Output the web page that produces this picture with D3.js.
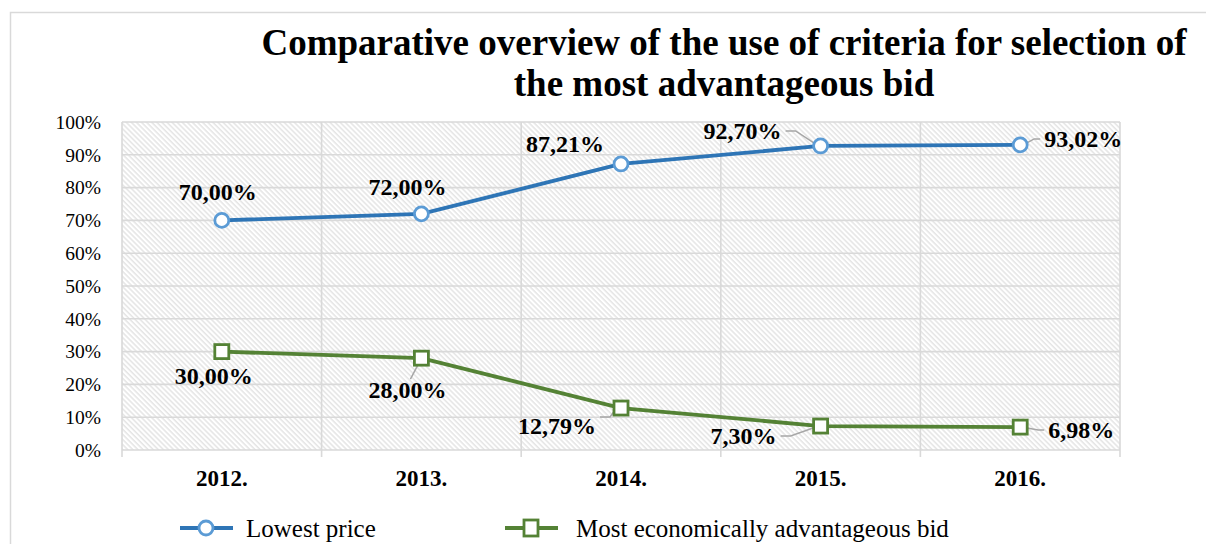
<!DOCTYPE html>
<html>
<head>
<meta charset="utf-8">
<script src="https://cdn.jsdelivr.net/npm/d3@7"></script>
<style>
  html, body { margin: 0; padding: 0; background: #fff; }
  svg { display: block; }
  text { font-family: "Liberation Serif", "Times New Roman", serif; }
</style>
</head>
<body>
<svg id="chart" width="1206" height="544"></svg>
<script>
// Years on the category axis
const years = ["2012.", "2013.", "2014.", "2015.", "2016."];
// Share of procedures by award criterion (%)
const lowestPrice = [70.00, 72.00, 87.21, 92.70, 93.02];
const meat = [30.00, 28.00, 12.79, 7.30, 6.98];
// Value-axis tick values
const yTicks = [0, 10, 20, 30, 40, 50, 60, 70, 80, 90, 100];
const seriesNames = ["Lowest price", "Most economically advantageous bid"];

// Label placement relative to each point: [dx, dy, anchor, leader style]
const lowestLabelPos = [
  [-4, -20, "middle", null],
  [-14, -19, "middle", null],
  [-56, -12, "middle", null],
  [-78, -7, "middle", "elbow"],
  [24, 2, "start", "elbow"]
];
const meatLabelPos = [
  [-8, 32, "middle", null],
  [-14, 40, "middle", "direct"],
  [-64, 26, "middle", "elbow"],
  [-77, 18, "middle", "elbow"],
  [28, 11, "start", "elbow"]
];

const svg = d3.select("#chart");
const margin = { left: 122, right: 1120, top: 122, bottom: 450 };

const x = d3.scaleBand().domain(years).range([margin.left, margin.right]).paddingInner(0).paddingOuter(0);
const y = d3.scaleLinear().domain([0, 100]).range([margin.bottom, margin.top]);
const cx = d => x(d) + x.bandwidth() / 2;

// outer chart frame
svg.append("rect")
  .attr("x", 10.5).attr("y", 12.5).attr("width", 1300).attr("height", 600)
  .attr("fill", "#fff").attr("stroke", "#d9d9d9").attr("stroke-width", 1.5);

// hatched plot background (light downward diagonals)
const defs = svg.append("defs");
const pat = defs.append("pattern")
  .attr("id", "hatch").attr("patternUnits", "userSpaceOnUse")
  .attr("width", 3.6).attr("height", 3.6)
  .attr("patternTransform", "rotate(45)");
pat.append("rect").attr("width", 3.6).attr("height", 3.6).attr("fill", "#fff");
pat.append("line").attr("x1", 0).attr("y1", 0.8).attr("x2", 3.6).attr("y2", 0.8)
  .attr("stroke", "#e0e0e0").attr("stroke-width", 1.3);

svg.append("rect")
  .attr("x", margin.left).attr("y", margin.top)
  .attr("width", margin.right - margin.left).attr("height", margin.bottom - margin.top)
  .attr("fill", "url(#hatch)");

// horizontal gridlines
svg.append("g").selectAll("line").data(yTicks).join("line")
  .attr("x1", margin.left).attr("x2", margin.right)
  .attr("y1", d => y(d)).attr("y2", d => y(d))
  .attr("stroke", "#d9d9d9").attr("stroke-width", 1.6);

// vertical category separators (extend below axis as tick marks)
const bounds = years.map(d => x(d)).concat([x(years[years.length - 1]) + x.bandwidth()]);
svg.append("g").selectAll("line").data(bounds).join("line")
  .attr("x1", d => d).attr("x2", d => d)
  .attr("y1", margin.top).attr("y2", margin.bottom + 7)
  .attr("stroke", "#d9d9d9").attr("stroke-width", 1.6);

// y axis labels
svg.append("g").selectAll("text").data(yTicks).join("text")
  .attr("x", 101).attr("y", d => y(d)).attr("dy", "0.35em")
  .attr("text-anchor", "end").attr("font-size", 19.5).attr("fill", "#000")
  .text(d => d + "%");

// x axis labels
svg.append("g").selectAll("text").data(years).join("text")
  .attr("x", d => cx(d)).attr("y", 486)
  .attr("text-anchor", "middle").attr("font-size", 23).attr("font-weight", "bold")
  .text(d => d);

// title
const title = svg.append("text").attr("text-anchor", "middle")
  .attr("font-size", 37).attr("font-weight", "bold");
title.append("tspan").attr("x", 724).attr("y", 55).text("Comparative overview of the use of criteria for selection of");
title.append("tspan").attr("x", 724).attr("y", 96).text("the most advantageous bid");

const fmt = v => v.toFixed(2).replace(".", ",") + "%";
const line = d3.line().x((d, i) => cx(years[i])).y(d => y(d));

function drawLabels(values, pos) {
  const g = svg.append("g");
  values.forEach((v, i) => {
    const px = cx(years[i]), py = y(v);
    const [dx, dy, anchor, leader] = pos[i];
    const t = g.append("text")
      .attr("x", px + dx).attr("y", py + dy)
      .attr("text-anchor", anchor).attr("font-size", 24).attr("font-weight", "bold")
      .text(fmt(v));
    if (!leader) return;
    const bb = t.node().getBBox();
    let d;
    if (leader === "direct") {
      // short diagonal from just above the label up to the marker corner
      const sx = px - 11, sy = bb.y + 2;
      d = `M${sx},${sy}L${px - 2},${py + 4}`;
    } else {
      let lx, ly;
      if (anchor === "start") { lx = bb.x - 4; ly = bb.y + bb.height / 2; }
      else {
        lx = bb.x + bb.width + 4;
        ly = (py < bb.y) ? bb.y + 4 : bb.y + bb.height / 2;
      }
      const ang = Math.atan2(ly - py, lx - px);
      const ex = px + Math.cos(ang) * 7, ey = py + Math.sin(ang) * 7;
      const midx = lx + (anchor === "start" ? -6 : 10);
      d = `M${lx},${ly}L${midx},${ly}L${ex},${ey}`;
    }
    g.insert("path", "text").attr("d", d)
      .attr("fill", "none").attr("stroke", "#a6a6a6").attr("stroke-width", 1.5);
  });
}

// Lowest price series
svg.append("path").datum(lowestPrice).attr("d", line)
  .attr("fill", "none").attr("stroke", "#2E75B6").attr("stroke-width", 3.8);
drawLabels(lowestPrice, lowestLabelPos);
svg.append("g").selectAll("circle").data(lowestPrice).join("circle")
  .attr("cx", (d, i) => cx(years[i])).attr("cy", d => y(d)).attr("r", 7)
  .attr("fill", "#fff").attr("stroke", "#5B9BD5").attr("stroke-width", 2.8);

// Most economically advantageous bid series
svg.append("path").datum(meat).attr("d", line)
  .attr("fill", "none").attr("stroke", "#548235").attr("stroke-width", 3.8);
drawLabels(meat, meatLabelPos);
svg.append("g").selectAll("rect").data(meat).join("rect")
  .attr("x", (d, i) => cx(years[i]) - 7).attr("y", d => y(d) - 7)
  .attr("width", 14).attr("height", 14)
  .attr("fill", "#fff").attr("stroke", "#548235").attr("stroke-width", 2.8);

// legend
const legend = svg.append("g");
const items = [
  { name: seriesNames[0], x0: 180, tx: 246, color: "#2E75B6", mcolor: "#5B9BD5", shape: "circle" },
  { name: seriesNames[1], x0: 505, tx: 576, color: "#548235", mcolor: "#548235", shape: "square" }
];
items.forEach(it => {
  const ly = 528;
  legend.append("line").attr("x1", it.x0).attr("x2", it.x0 + 53)
    .attr("y1", ly).attr("y2", ly).attr("stroke", it.color).attr("stroke-width", 4);
  if (it.shape === "circle") {
    legend.append("circle").attr("cx", it.x0 + 26).attr("cy", ly).attr("r", 7)
      .attr("fill", "#fff").attr("stroke", it.mcolor).attr("stroke-width", 2.8);
  } else {
    legend.append("rect").attr("x", it.x0 + 26 - 7).attr("y", ly - 8).attr("width", 14).attr("height", 16)
      .attr("fill", "#fff").attr("stroke", it.mcolor).attr("stroke-width", 2.8);
  }
  legend.append("text").attr("x", it.tx).attr("y", ly + 9)
    .attr("font-size", 25).text(it.name);
});
</script>
</body>
</html>
